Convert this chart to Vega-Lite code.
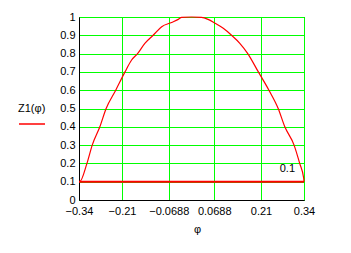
{
  "$schema": "https://vega.github.io/schema/vega-lite/v6.json",
  "width": 225,
  "height": 183,
  "autosize": {"type": "none"},
  "padding": {"left": 79, "top": 17, "right": 47, "bottom": 53},
  "background": "white",
  "config": {
    "font": "Liberation Sans",
    "view": {"stroke": "black", "strokeWidth": 1},
    "axis": {
      "zindex": 0,
      "grid": true,
      "gridColor": "#00ff00",
      "gridOpacity": 1,
      "gridWidth": 1,
      "ticks": false,
      "domainColor": "black",
      "domainWidth": 1,
      "labelColor": "black",
      "labelFontSize": 11,
      "labelOverlap": false,
      "labelFlush": false,
      "titleFontSize": 11,
      "titleFontWeight": "normal",
      "titleColor": "black"
    }
  },
  "datasets": {
    "curve": [
      {"phi": -0.34, "value": 0.1, "series": "Z1"},
      {"phi": -0.338, "value": 0.1, "series": "Z1"},
      {"phi": -0.316, "value": 0.2, "series": "Z1"},
      {"phi": -0.3, "value": 0.3, "series": "Z1"},
      {"phi": -0.277, "value": 0.4, "series": "Z1"},
      {"phi": -0.258, "value": 0.5, "series": "Z1"},
      {"phi": -0.229, "value": 0.6, "series": "Z1"},
      {"phi": -0.201, "value": 0.7, "series": "Z1"},
      {"phi": -0.181, "value": 0.765, "series": "Z1"},
      {"phi": -0.163, "value": 0.8, "series": "Z1"},
      {"phi": -0.141, "value": 0.856, "series": "Z1"},
      {"phi": -0.116, "value": 0.9, "series": "Z1"},
      {"phi": -0.09, "value": 0.947, "series": "Z1"},
      {"phi": -0.06, "value": 0.97, "series": "Z1"},
      {"phi": -0.04, "value": 0.987, "series": "Z1"},
      {"phi": -0.03, "value": 0.998, "series": "Z1"},
      {"phi": 0.0, "value": 1.0, "series": "Z1"},
      {"phi": 0.03, "value": 0.998, "series": "Z1"},
      {"phi": 0.05, "value": 0.987, "series": "Z1"},
      {"phi": 0.071, "value": 0.966, "series": "Z1"},
      {"phi": 0.096, "value": 0.938, "series": "Z1"},
      {"phi": 0.121, "value": 0.9, "series": "Z1"},
      {"phi": 0.146, "value": 0.856, "series": "Z1"},
      {"phi": 0.17, "value": 0.8, "series": "Z1"},
      {"phi": 0.202, "value": 0.7, "series": "Z1"},
      {"phi": 0.234, "value": 0.6, "series": "Z1"},
      {"phi": 0.262, "value": 0.5, "series": "Z1"},
      {"phi": 0.282, "value": 0.4, "series": "Z1"},
      {"phi": 0.31, "value": 0.3, "series": "Z1"},
      {"phi": 0.327, "value": 0.2, "series": "Z1"},
      {"phi": 0.339, "value": 0.12, "series": "Z1"},
      {"phi": 0.34, "value": 0.1, "series": "Z1"}
    ],
    "level": [
      {"phi": -0.34, "value": 0.1, "label": ""},
      {"phi": 0.34, "value": 0.1, "label": "0.1"}
    ]
  },
  "encoding": {
    "x": {
      "field": "phi",
      "type": "quantitative",
      "scale": {"domain": [-0.34, 0.34], "nice": false, "zero": false},
      "axis": {
        "values": [-0.34, -0.21, -0.0688, 0.0688, 0.21, 0.34],
        "labelExpr": "format(datum.value, '~g')",
        "labelPadding": 5,
        "title": "φ",
        "titleX": 118,
        "titleY": 23,
        "titleBaseline": "top"
      }
    },
    "y": {
      "field": "value",
      "type": "quantitative",
      "scale": {"domain": [0, 1], "nice": false},
      "axis": {
        "values": [0, 0.1, 0.2, 0.3, 0.4, 0.5, 0.6, 0.7, 0.8, 0.9, 1],
        "labelExpr": "format(datum.value, '~g')",
        "labelPadding": 4,
        "title": null
      }
    }
  },
  "layer": [
    {
      "data": {"name": "level"},
      "mark": {"type": "line", "color": "#ff0000", "strokeWidth": 2},
      "encoding": {}
    },
    {
      "data": {"name": "curve"},
      "mark": {"type": "line", "strokeWidth": 1.2, "interpolate": "monotone"},
      "encoding": {
        "color": {
          "field": "series",
          "type": "nominal",
          "scale": {"domain": ["Z1"], "range": ["#ff0000"]},
          "legend": {
            "orient": "none",
            "legendX": -61,
            "legendY": 86,
            "padding": 0,
            "title": "Z1(φ)",
            "titleFontSize": 11,
            "titleFontWeight": "normal",
            "titleColor": "black",
            "titlePadding": -4,
            "labelExpr": "''",
            "symbolType": "stroke",
            "symbolSize": 676,
            "symbolStrokeWidth": 1.5,
            "symbolStrokeColor": "#ff0000"
          }
        }
      }
    },
    {
      "data": {"name": "level"},
      "mark": {"type": "text", "align": "right", "baseline": "alphabetic", "dx": -9, "dy": -10, "fontSize": 11, "color": "black"},
      "encoding": {"text": {"field": "label"}}
    }
  ]
}
